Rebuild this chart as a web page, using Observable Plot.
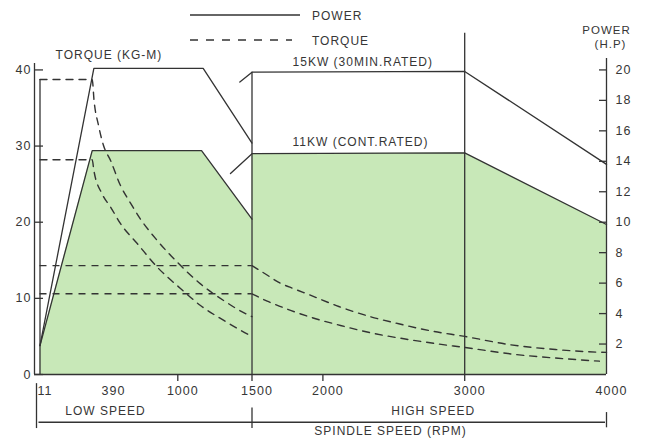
<!DOCTYPE html>
<html>
<head>
<meta charset="utf-8">
<script src="https://cdn.jsdelivr.net/npm/d3@7"></script>
<script src="https://cdn.jsdelivr.net/npm/@observablehq/plot@0.6"></script>
<style>
  html, body { margin: 0; padding: 0; background: #fff; }
  #wrap { position: relative; width: 645px; height: 439px; font-family: 'Liberation Sans', Arial, sans-serif; }
  #wrap svg.plot { position: absolute; left: 0; top: 0; }
  #legend { position: absolute; left: 0; top: 0; }
</style>
</head>
<body>
<div id="wrap"></div>
<script>
// ---------- data ----------
const rpmTicks = [11, 390, 1000, 1500, 2000, 3000, 4000];
const rpmMinorTicks = [1000, 1500, 2000, 3000];
const torqueTicks = [0, 10, 20, 30, 40];
const powerTicks = [2, 4, 6, 8, 10, 12, 14, 16, 18, 20];

// power curves [rpm, HP]
const lowPower30 = [[11, 1.9], [309, 20.1], [1171, 20.1], [1500, 15.2]];
const lowPowerCont = [[11, 1.9], [300, 14.7], [1160, 14.7], [1500, 10.2]];
const highPower30 = [[1418, 19.2], [1500, 19.85], [3000, 19.9], [4000, 13.8]];
const highPowerCont = [[1355, 13.2], [1500, 14.5], [3000, 14.55], [4000, 9.85]];

// torque curves [rpm, kg-m]
const lowTorque30 = [[11, 38.75], [300, 38.75], [310, 36.0], [335, 32.7], [362, 30.1], [408, 28.1],
  [496, 24.8], [584, 22.5], [672, 20.4], [819, 17.6], [995, 14.75], [1153, 11.9], [1310, 9.7], [1456, 8.0], [1500, 7.6]];
const lowTorqueCont = [[11, 28.2], [300, 28.2], [309, 26.8], [355, 23.7], [408, 22.0], [496, 19.8],
  [643, 17.2], [819, 14.1], [1018, 11.3], [1153, 9.06], [1310, 7.1], [1490, 5.1], [1500, 5.0]];
const highTorque30 = [[1500, 14.3], [1595, 13.2], [1689, 12.1], [1795, 11.26], [1900, 10.5], [2112, 8.93], [2324, 7.65], [2535, 6.66],
  [2771, 5.69], [3000, 5.0], [3311, 3.94], [3640, 3.28], [3946, 2.93], [4000, 2.9]];
const highTorqueCont = [[1500, 10.6], [1607, 9.63], [1713, 8.84], [1807, 8.18], [1912, 7.53], [2124, 6.44], [2336, 5.48], [2571, 4.69],
  [2806, 4.03], [3000, 3.55], [3358, 2.63], [3711, 2.06], [3950, 1.75]];
const baseTorque = [14.3, 10.6];

// ---------- chart ----------
const HP_TO_Y = 2;            // right axis: 20 HP sits level with 40 kg-m
const INK = "#333";
const TXT = "#363636";
const GREEN = "#c8e8b8";
const rpm = d => d[0];
const hp = d => d[1] * HP_TO_Y;
const tq = d => d[1];
const dash = "7,6";

const plot = Plot.plot({
  width: 645,
  height: 439,
  marginTop: 58,
  marginBottom: 65,
  marginLeft: 34,
  marginRight: 39,
  style: {fontFamily: "'Liberation Sans', Arial, sans-serif", fontSize: "12px", letterSpacing: "1px", color: TXT, background: "transparent", overflow: "visible"},
  x: {type: "linear", domain: [11, 390, 1000, 1500, 4000], range: [39.5, 108, 177.3, 251.5, 606], axis: null},
  y: {domain: [0, 41.5], axis: null},
  marks: [
    // green continuous-rating areas
    Plot.areaY(lowPowerCont, {x: rpm, y: hp, fill: GREEN}),
    Plot.areaY(highPowerCont.filter(d => d[0] >= 1500), {x: rpm, y: hp, fill: GREEN}),

    // axes
    Plot.ruleY([0], {stroke: INK, strokeWidth: 1.3}),
    Plot.ruleX([11], {y1: 0, y2: 40.85, dx: -5.5, stroke: INK, strokeWidth: 1.3}),
    Plot.ruleX([4000], {y1: 0, y2: 41.5, stroke: INK, strokeWidth: 1.3}),
    Plot.axisY(torqueTicks, {anchor: "left", tickSize: -9, tickPadding: 12, color: TXT, strokeWidth: 1.3, fontSize: 12.5, tickFormat: "d"}),
    Plot.axisY(powerTicks.map(p => p * HP_TO_Y), {anchor: "right", tickSize: -8, tickPadding: 17, color: TXT, strokeWidth: 1.3, fontSize: 12.5, tickFormat: d => String(d / HP_TO_Y)}),
    Plot.axisX(rpmMinorTicks, {anchor: "bottom", tickSize: 7, tickFormat: () => "", color: INK, strokeWidth: 1.3, label: null}),
    Plot.axisX(rpmTicks, {anchor: "bottom", tickSize: 0, tickPadding: 12, dx: 5, tickFormat: "d", color: TXT, fontSize: 12.5, label: null}),

    // vertical boundaries
    Plot.ruleX([11], {y1: 0, y2: lowTorque30[0][1], stroke: INK, strokeWidth: 1.3}),
    Plot.ruleX([1500], {y1: 0, y2: highPower30[1][1] * HP_TO_Y, stroke: INK, strokeWidth: 1.3}),
    Plot.ruleX([3000], {y1: 0, y2: 44.8, stroke: INK, strokeWidth: 1.3}),

    // power lines
    Plot.line(lowPower30, {x: rpm, y: hp, stroke: INK, strokeWidth: 1.3}),
    Plot.line(lowPowerCont, {x: rpm, y: hp, stroke: INK, strokeWidth: 1.3}),
    Plot.line(highPower30, {x: rpm, y: hp, stroke: INK, strokeWidth: 1.3}),
    Plot.line(highPowerCont, {x: rpm, y: hp, stroke: INK, strokeWidth: 1.3}),

    // torque lines
    Plot.line(lowTorque30, {x: rpm, y: tq, stroke: INK, strokeWidth: 1.4, strokeDasharray: dash, curve: "monotone-x"}),
    Plot.line(lowTorqueCont, {x: rpm, y: tq, stroke: INK, strokeWidth: 1.4, strokeDasharray: dash, curve: "monotone-x"}),
    Plot.line(highTorque30, {x: rpm, y: tq, stroke: INK, strokeWidth: 1.4, strokeDasharray: dash, curve: "monotone-x"}),
    Plot.line(highTorqueCont, {x: rpm, y: tq, stroke: INK, strokeWidth: 1.4, strokeDasharray: dash, curve: "monotone-x"}),
    Plot.ruleY(baseTorque, {x1: 11, x2: 1500, stroke: INK, strokeWidth: 1.4, strokeDasharray: dash}),

    // annotations
    Plot.text(["TORQUE (KG-M)"], {x: 97, y: 42.0, textAnchor: "start", fill: TXT}),
    Plot.text(["15KW (30MIN.RATED)"], {x: 1786, y: 41.0, textAnchor: "start", fill: TXT}),
    Plot.text(["11KW (CONT.RATED)"], {x: 1786, y: 30.5, textAnchor: "start", fill: TXT}),
    Plot.text(["POWER"], {x: 4000, y: 45.2, fontSize: 11.5, fill: TXT}),
    Plot.text(["(H.P)"], {x: 4000, y: 43.4, dx: 4, fontSize: 11.5, fill: TXT}),

    // speed-range brackets
    Plot.ruleY([-6.27], {x1: 11, x2: 4000, dx: -1, stroke: INK, strokeWidth: 1.3}),
    Plot.ruleX([11], {y1: -1.2, y2: -7.1, dx: -3.5, stroke: INK, strokeWidth: 1.3}),
    Plot.ruleX([1500], {y1: -4.4, y2: -7.1, stroke: INK, strokeWidth: 1.3}),
    Plot.ruleX([4000], {y1: -5.0, y2: -7.0, stroke: INK, strokeWidth: 1.3}),
    Plot.text(["LOW SPEED"], {x: 373, y: -4.82, fill: TXT}),
    Plot.text(["HIGH SPEED"], {x: 2778, y: -4.82, fill: TXT}),
    Plot.text(["SPINDLE SPEED (RPM)"], {x: 2477, y: -7.5, fill: TXT})
  ]
});
plot.classList.add("plot");
document.getElementById("wrap").appendChild(plot);

// legend
const legendItems = ["POWER", "TORQUE"];
const ns = "http://www.w3.org/2000/svg";
const lg = document.createElementNS(ns, "svg");
lg.setAttribute("id", "legend");
lg.setAttribute("width", 400);
lg.setAttribute("height", 50);
lg.style.fontFamily = "'Liberation Sans', Arial, sans-serif";
legendItems.forEach((name, i) => {
  const y = 15 + i * 25;
  const ln = document.createElementNS(ns, "line");
  ln.setAttribute("x1", 190); ln.setAttribute("x2", i ? 292 : 300);
  ln.setAttribute("y1", y); ln.setAttribute("y2", y);
  ln.setAttribute("stroke", INK); ln.setAttribute("stroke-width", 1.4);
  if (i) ln.setAttribute("stroke-dasharray", "8,8");
  lg.appendChild(ln);
  const t = document.createElementNS(ns, "text");
  t.setAttribute("x", 312); t.setAttribute("y", y + 1);
  t.setAttribute("dy", "0.35em");
  t.setAttribute("font-size", 12);
  t.setAttribute("letter-spacing", "1px");
  t.setAttribute("fill", TXT);
  t.textContent = name;
  lg.appendChild(t);
});
document.getElementById("wrap").appendChild(lg);
</script>
</body>
</html>
